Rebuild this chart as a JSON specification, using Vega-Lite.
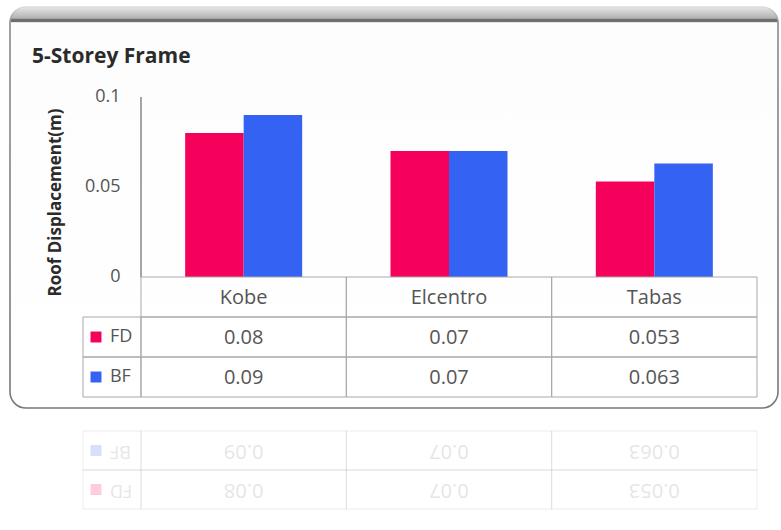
{
  "$schema": "https://vega.github.io/schema/vega-lite/v6.json",
  "width": 768,
  "height": 401,
  "autosize": {"type": "none"},
  "padding": {"left": 10, "top": 7, "right": 3, "bottom": 122},
  "background": "white",
  "view": {
    "cornerRadius": 16,
    "strokeWidth": 1.6,
    "fill": {
      "gradient": "linear", "x1": 0, "y1": 0, "x2": 0, "y2": 1,
      "stops": [
        {"offset": 0, "color": "#e6e6e6"},
        {"offset": 0.028, "color": "#b2b2b2"},
        {"offset": 0.031, "color": "#6e6e6e"},
        {"offset": 0.037, "color": "#6e6e6e"},
        {"offset": 0.039, "color": "#fdfdfd"},
        {"offset": 1, "color": "#ffffff"}
      ]
    },
    "stroke": {
      "gradient": "linear", "x1": 0, "y1": 0, "x2": 0, "y2": 1,
      "stops": [
        {"offset": 0, "color": "#dddddd"},
        {"offset": 0.04, "color": "#8a8a8a"},
        {"offset": 1, "color": "#777777"}
      ]
    }
  },
  "title": {
    "text": "5-Storey Frame",
    "anchor": "start",
    "frame": "group",
    "orient": "top",
    "offset": -77,
    "dx": 22,
    "baseline": "alphabetic",
    "font": "Open Sans",
    "fontSize": 21,
    "fontWeight": "bold",
    "color": "#2b2b2b"
  },
  "data": {
    "values": [
      {"quake": "Kobe", "series": "FD", "value": 0.08},
      {"quake": "Kobe", "series": "BF", "value": 0.09},
      {"quake": "Elcentro", "series": "FD", "value": 0.07},
      {"quake": "Elcentro", "series": "BF", "value": 0.07},
      {"quake": "Tabas", "series": "FD", "value": 0.053},
      {"quake": "Tabas", "series": "BF", "value": 0.063}
    ]
  },
  "resolve": {"scale": {"y": "independent"}, "axis": {"y": "independent"}},
  "layer": [
    {
      "layer": [
        {
          "mark": {"type": "bar"},
          "encoding": {
            "x": {
              "field": "quake", "type": "nominal",
              "sort": ["Kobe", "Elcentro", "Tabas"],
              "scale": {"domain": ["Kobe", "Elcentro", "Tabas"], "paddingInner": 0, "paddingOuter": 0.37013, "align": 0.8618},
              "axis": null
            },
            "xOffset": {
              "field": "series", "type": "nominal",
              "scale": {"domain": ["FD", "BF"], "paddingInner": 0, "paddingOuter": 0.755}
            },
            "y": {
              "field": "value", "type": "quantitative",
              "scale": {"domain": [-0.072778, 0.15], "nice": false, "zero": false},
              "axis": {
                "orient": "left",
                "offset": -131,
                "values": [0, 0.05, 0.1],
                "format": "~g",
                "domain": false,
                "ticks": false,
                "grid": false,
                "labelPadding": 21,
                "labelFont": "Open Sans",
                "labelFontSize": 18,
                "labelColor": "#555555",
                "title": "Roof Displacement(m)",
                "titleFont": "Open Sans",
                "titleFontSize": 17,
                "titleFontWeight": "bold",
                "titleColor": "#2b2b2b",
                "titleAngle": -90,
                "titleBaseline": "middle",
                "titleX": -86,
                "titleY": 195
              }
            },
            "color": {
              "field": "series", "type": "nominal",
              "scale": {"domain": ["FD", "BF"], "range": ["#f5005b", "#3462f2"]},
              "legend": null
            }
          }
        },
        {
          "mark": {"type": "rule", "color": "#a3a3a3", "strokeWidth": 1},
          "encoding": {
            "x": {"datum": "Kobe", "bandPosition": 0},
            "y": {"datum": 0},
            "y2": {"datum": 0.1}
          }
        }
      ]
    },
    {
      "layer": [
        {
          "mark": {"type": "rect", "fillOpacity": 0, "stroke": "#a8a8a8", "strokeWidth": 1},
          "encoding": {
            "x": {"field": "quake", "type": "nominal"},
            "y": {
              "field": "series", "type": "nominal",
              "scale": {"domain": ["head", "FD", "BF"], "paddingInner": 0, "paddingOuter": 0, "range": [270, 390]},
              "axis": null
            }
          }
        },
        {
          "transform": [{"filter": "datum.series === 'FD'"}],
          "mark": {"type": "rect", "fillOpacity": 0, "stroke": "#a8a8a8", "strokeWidth": 1},
          "encoding": {
            "x": {"field": "quake", "type": "nominal"},
            "y": {"datum": "head"}
          }
        },
        {
          "transform": [{"filter": "datum.quake === 'Kobe'"}],
          "mark": {"type": "rect", "fillOpacity": 0, "stroke": "#a8a8a8", "strokeWidth": 1, "xOffset": -58},
          "encoding": {
            "x": {"datum": "Kobe", "bandPosition": 0},
            "x2": {"datum": "Kobe", "bandPosition": 0},
            "y": {"field": "series", "type": "nominal"}
          }
        },
        {
          "transform": [{"filter": "datum.quake === 'Kobe'"}],
          "mark": {"type": "square", "size": 120, "filled": true, "opacity": 1, "xOffset": -45},
          "encoding": {
            "x": {"datum": "Kobe", "bandPosition": 0},
            "y": {"field": "series", "type": "nominal"},
            "color": {"field": "series", "type": "nominal"}
          }
        },
        {
          "transform": [{"filter": "datum.quake === 'Kobe'"}],
          "mark": {"type": "text", "align": "left", "baseline": "middle", "xOffset": -31, "font": "Open Sans", "fontSize": 18, "color": "#555555"},
          "encoding": {
            "x": {"datum": "Kobe", "bandPosition": 0},
            "y": {"field": "series", "type": "nominal"},
            "text": {"field": "series"}
          }
        },
        {
          "mark": {"type": "text", "align": "center", "baseline": "middle", "dy": 1, "font": "Open Sans", "fontSize": 20, "color": "#555555"},
          "encoding": {
            "x": {"field": "quake", "type": "nominal"},
            "y": {"field": "series", "type": "nominal"},
            "text": {"field": "value", "type": "quantitative", "format": "~g"}
          }
        },
        {
          "transform": [{"filter": "datum.series === 'FD'"}],
          "mark": {"type": "text", "align": "center", "baseline": "middle", "dy": 1, "font": "Open Sans", "fontSize": 20, "color": "#555555"},
          "encoding": {
            "x": {"field": "quake", "type": "nominal"},
            "y": {"datum": "head"},
            "text": {"field": "quake"}
          }
        }
      ]
    },
    {
      "layer": [
        {
          "mark": {"type": "rect", "fillOpacity": 0, "stroke": "#a8a8a8", "strokeWidth": 1, "strokeOpacity": 0.22},
          "encoding": {
            "x": {"field": "quake", "type": "nominal"},
            "y": {
              "field": "series", "type": "nominal",
              "scale": {"domain": ["BF", "FD"], "paddingInner": 0, "paddingOuter": 0, "range": [424, 502]},
              "axis": null
            }
          }
        },
        {
          "transform": [{"filter": "datum.quake === 'Kobe'"}],
          "mark": {"type": "rect", "fillOpacity": 0, "stroke": "#a8a8a8", "strokeWidth": 1, "strokeOpacity": 0.22, "xOffset": -58},
          "encoding": {
            "x": {"datum": "Kobe", "bandPosition": 0},
            "x2": {"datum": "Kobe", "bandPosition": 0},
            "y": {"field": "series", "type": "nominal"}
          }
        },
        {
          "transform": [{"filter": "datum.quake === 'Kobe'"}],
          "mark": {"type": "square", "size": 120, "filled": true, "opacity": 0.2, "xOffset": -45},
          "encoding": {
            "x": {"datum": "Kobe", "bandPosition": 0},
            "y": {"field": "series", "type": "nominal"},
            "color": {"field": "series", "type": "nominal"}
          }
        },
        {
          "transform": [{"filter": "datum.quake === 'Kobe'"}],
          "mark": {"type": "text", "align": "right", "baseline": "middle", "angle": 180, "xOffset": -31, "font": "Open Sans", "fontSize": 18, "color": "#555555", "opacity": 0.15},
          "encoding": {
            "x": {"datum": "Kobe", "bandPosition": 0},
            "y": {"field": "series", "type": "nominal"},
            "text": {"field": "series"}
          }
        },
        {
          "mark": {"type": "text", "align": "center", "baseline": "middle", "angle": 180, "font": "Open Sans", "fontSize": 20, "color": "#555555", "opacity": 0.15},
          "encoding": {
            "x": {"field": "quake", "type": "nominal"},
            "y": {"field": "series", "type": "nominal"},
            "text": {"field": "value", "type": "quantitative", "format": "~g"}
          }
        }
      ]
    }
  ]
}
